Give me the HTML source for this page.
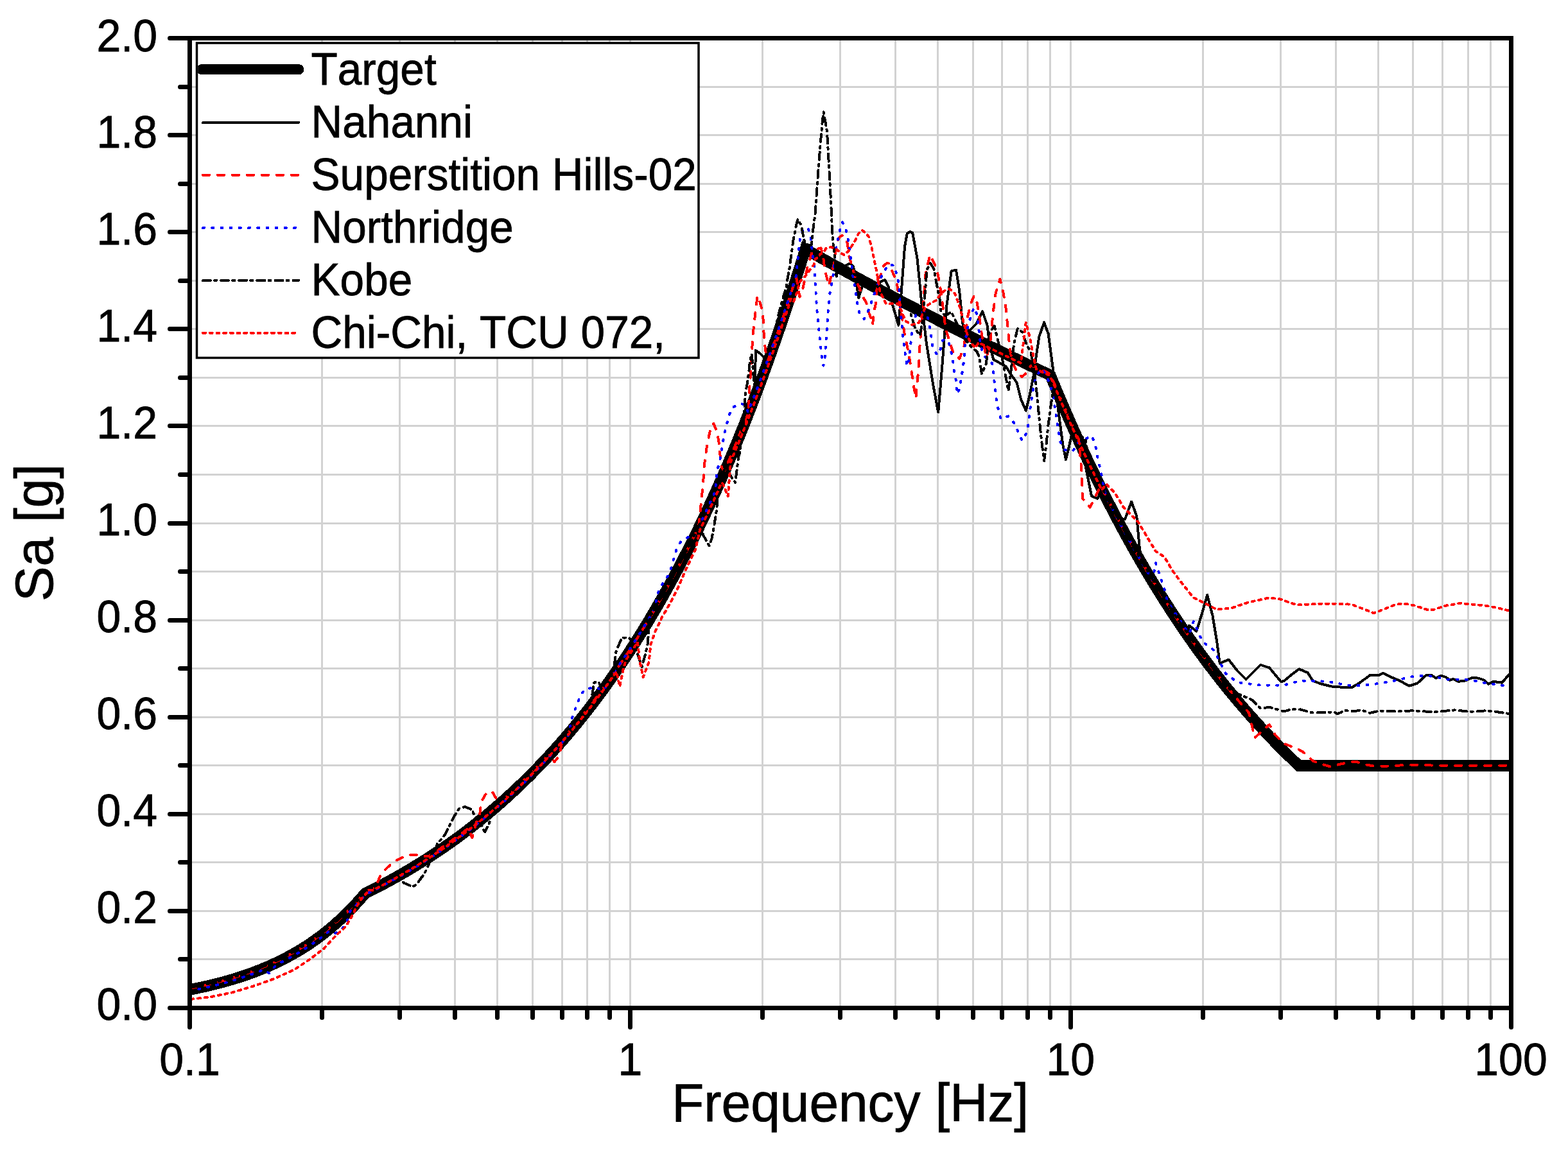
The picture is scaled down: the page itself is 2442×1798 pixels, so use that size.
<!DOCTYPE html>
<html><head><meta charset="utf-8"><style>html,body{margin:0;padding:0;background:#fff;}svg{display:block;}text{font-kerning:none;}</style></head>
<body><svg width="2442" height="1798" viewBox="0 0 2442 1798">
<rect width="2442" height="1798" fill="#fff"/>
<path d="M501.50 63.0V1567.0M622.50 63.0V1567.0M708.50 63.0V1567.0M774.50 63.0V1567.0M829.50 63.0V1567.0M875.50 63.0V1567.0M914.50 63.0V1567.0M949.50 63.0V1567.0M981.50 63.0V1567.0M1187.50 63.0V1567.0M1308.50 63.0V1567.0M1394.50 63.0V1567.0M1460.50 63.0V1567.0M1515.50 63.0V1567.0M1560.50 63.0V1567.0M1600.50 63.0V1567.0M1635.50 63.0V1567.0M1667.50 63.0V1567.0M1873.50 63.0V1567.0M1994.50 63.0V1567.0M2080.50 63.0V1567.0M2146.50 63.0V1567.0M2200.50 63.0V1567.0M2246.50 63.0V1567.0M2286.50 63.0V1567.0M2321.50 63.0V1567.0M299.0 1494.50H2349.5M299.0 1419.50H2349.5M299.0 1343.50H2349.5M299.0 1268.50H2349.5M299.0 1192.50H2349.5M299.0 1117.50H2349.5M299.0 1041.50H2349.5M299.0 966.50H2349.5M299.0 890.50H2349.5M299.0 815.50H2349.5M299.0 739.50H2349.5M299.0 663.50H2349.5M299.0 588.50H2349.5M299.0 512.50H2349.5M299.0 437.50H2349.5M299.0 361.50H2349.5M299.0 286.50H2349.5M299.0 210.50H2349.5M299.0 135.50H2349.5" stroke="#d2d2d2" stroke-width="3" fill="none"/>
<defs><clipPath id="pc"><rect x="295.5" y="59.5" width="2057.5" height="1511"/></clipPath></defs>
<g clip-path="url(#pc)" fill="none" shape-rendering="crispEdges">
<path d="M295.5 1542.0 L299.5 1541.2 L303.5 1540.4 L307.5 1539.6 L311.5 1538.7 L315.5 1537.9 L319.5 1537.0 L323.5 1536.1 L327.5 1535.1 L331.5 1534.2 L335.5 1533.2 L339.5 1532.2 L343.5 1531.1 L347.5 1530.1 L351.5 1528.9 L355.5 1527.8 L359.5 1526.7 L363.5 1525.5 L367.5 1524.2 L371.5 1523.0 L375.5 1521.7 L379.5 1520.4 L383.5 1519.0 L387.5 1517.6 L391.5 1516.1 L395.5 1514.7 L399.5 1513.1 L403.5 1511.6 L407.5 1510.0 L411.5 1508.3 L415.5 1506.6 L419.5 1504.9 L423.5 1503.1 L427.5 1501.3 L431.5 1499.4 L435.5 1497.5 L439.5 1495.5 L443.5 1493.4 L447.5 1491.3 L451.5 1489.2 L455.5 1487.0 L459.5 1484.7 L463.5 1482.4 L467.5 1480.0 L471.5 1477.5 L475.5 1475.0 L479.5 1472.4 L483.5 1469.7 L487.5 1466.9 L491.5 1464.1 L495.5 1461.2 L499.5 1458.3 L503.5 1455.2 L507.5 1452.1 L511.5 1448.8 L515.5 1445.5 L519.5 1442.1 L523.5 1438.6 L527.5 1435.0 L531.5 1431.4 L535.5 1427.6 L539.5 1423.7 L543.5 1419.7 L547.5 1415.6 L551.5 1411.4 L555.5 1407.0 L559.5 1402.6 L563.5 1398.0 L567.5 1393.3 L568.4 1392.2 L571.5 1390.7 L575.5 1388.7 L579.5 1386.7 L583.5 1384.6 L587.5 1382.6 L591.5 1380.5 L595.5 1378.4 L599.5 1376.2 L603.5 1374.1 L607.5 1371.9 L611.5 1369.7 L615.5 1367.5 L619.5 1365.2 L623.5 1362.9 L627.5 1360.6 L631.5 1358.3 L635.5 1356.0 L639.5 1353.6 L643.5 1351.2 L647.5 1348.7 L651.5 1346.3 L655.5 1343.8 L659.5 1341.3 L663.5 1338.7 L667.5 1336.2 L671.5 1333.6 L675.5 1330.9 L679.5 1328.3 L683.5 1325.6 L687.5 1322.9 L691.5 1320.1 L695.5 1317.3 L699.5 1314.5 L703.5 1311.7 L707.5 1308.8 L711.5 1305.9 L715.5 1303.0 L719.5 1300.0 L723.5 1297.0 L727.5 1294.0 L731.5 1290.9 L735.5 1287.8 L739.5 1284.7 L743.5 1281.5 L747.5 1278.3 L751.5 1275.1 L755.5 1271.8 L759.5 1268.5 L763.5 1265.1 L767.5 1261.7 L771.5 1258.3 L775.5 1254.8 L779.5 1251.3 L783.5 1247.8 L787.5 1244.2 L791.5 1240.6 L795.5 1236.9 L799.5 1233.2 L803.5 1229.5 L807.5 1225.7 L811.5 1221.9 L815.5 1218.0 L819.5 1214.1 L823.5 1210.2 L827.5 1206.2 L831.5 1202.1 L835.5 1198.0 L839.5 1193.9 L843.5 1189.7 L847.5 1185.5 L851.5 1181.2 L855.5 1176.9 L859.5 1172.5 L863.5 1168.1 L867.5 1163.7 L871.5 1159.1 L875.5 1154.6 L879.5 1150.0 L883.5 1145.3 L887.5 1140.6 L891.5 1135.8 L895.5 1131.0 L899.5 1126.1 L903.5 1121.2 L907.5 1116.2 L911.5 1111.2 L915.5 1106.1 L919.5 1100.9 L923.5 1095.7 L927.5 1090.4 L931.5 1085.1 L935.5 1079.7 L939.5 1074.3 L943.5 1068.8 L947.5 1063.2 L951.5 1057.6 L955.5 1051.9 L959.5 1046.1 L963.5 1040.3 L967.5 1034.4 L971.5 1028.5 L975.5 1022.5 L979.5 1016.4 L983.5 1010.2 L987.5 1004.0 L991.5 997.7 L995.5 991.4 L999.5 985.0 L1003.5 978.5 L1007.5 971.9 L1011.5 965.2 L1015.5 958.5 L1019.5 951.7 L1023.5 944.9 L1027.5 937.9 L1031.5 930.9 L1035.5 923.8 L1039.5 916.6 L1043.5 909.4 L1047.5 902.1 L1051.5 894.6 L1055.5 887.1 L1059.5 879.6 L1063.5 871.9 L1067.5 864.1 L1071.5 856.3 L1075.5 848.4 L1079.5 840.4 L1083.5 832.3 L1087.5 824.1 L1091.5 815.8 L1095.5 807.4 L1099.5 799.0 L1103.5 790.4 L1107.5 781.7 L1111.5 773.0 L1115.5 764.1 L1119.5 755.2 L1123.5 746.2 L1127.5 737.0 L1131.5 727.8 L1135.5 718.4 L1139.5 709.0 L1143.5 699.4 L1147.5 689.7 L1151.5 680.0 L1155.5 670.1 L1159.5 660.1 L1163.5 650.0 L1167.5 639.8 L1171.5 629.4 L1175.5 619.0 L1179.5 608.5 L1183.5 597.8 L1187.5 587.0 L1191.5 576.1 L1195.5 565.0 L1199.5 553.9 L1203.5 542.6 L1207.5 531.2 L1211.5 519.7 L1215.5 508.0 L1219.5 496.2 L1223.5 484.3 L1227.5 472.3 L1231.5 460.1 L1235.5 447.8 L1239.5 435.3 L1243.5 422.7 L1247.5 410.0 L1251.5 397.1 L1254.3 388.1 L1255.5 388.8 L1259.5 391.1 L1263.5 393.3 L1267.5 395.6 L1271.5 397.8 L1275.5 400.0 L1279.5 402.3 L1283.5 404.5 L1287.5 406.7 L1291.5 408.9 L1295.5 411.1 L1299.5 413.3 L1303.5 415.5 L1307.5 417.7 L1311.5 419.9 L1315.5 422.1 L1319.5 424.3 L1323.5 426.5 L1327.5 428.7 L1331.5 430.8 L1335.5 433.0 L1339.5 435.2 L1343.5 437.3 L1347.5 439.5 L1351.5 441.6 L1355.5 443.8 L1359.5 445.9 L1363.5 448.1 L1367.5 450.2 L1371.5 452.3 L1375.5 454.5 L1379.5 456.6 L1383.5 458.7 L1387.5 460.8 L1391.5 462.9 L1395.5 465.1 L1399.5 467.2 L1403.5 469.3 L1407.5 471.4 L1411.5 473.4 L1415.5 475.5 L1419.5 477.6 L1423.5 479.7 L1427.5 481.8 L1431.5 483.8 L1435.5 485.9 L1439.5 488.0 L1443.5 490.0 L1447.5 492.1 L1451.5 494.1 L1455.5 496.2 L1459.5 498.2 L1463.5 500.3 L1467.5 502.3 L1471.5 504.3 L1475.5 506.4 L1479.5 508.4 L1483.5 510.4 L1487.5 512.4 L1491.5 514.5 L1495.5 516.5 L1499.5 518.5 L1503.5 520.5 L1507.5 522.5 L1511.5 524.5 L1515.5 526.5 L1519.5 528.4 L1523.5 530.4 L1527.5 532.4 L1531.5 534.4 L1535.5 536.3 L1539.5 538.3 L1543.5 540.3 L1547.5 542.2 L1551.5 544.2 L1555.5 546.1 L1559.5 548.1 L1563.5 550.0 L1567.5 552.0 L1571.5 553.9 L1575.5 555.9 L1579.5 557.8 L1583.5 559.7 L1587.5 561.6 L1591.5 563.6 L1595.5 565.5 L1599.5 567.4 L1603.5 569.3 L1607.5 571.2 L1611.5 573.1 L1615.5 575.0 L1619.5 576.9 L1623.5 578.8 L1627.5 580.7 L1631.5 582.6 L1635.5 584.4 L1635.8 584.6 L1639.5 593.6 L1643.5 603.3 L1647.5 612.8 L1651.5 622.2 L1655.5 631.6 L1659.5 640.9 L1663.5 650.0 L1667.5 659.1 L1671.5 668.1 L1675.5 677.0 L1679.5 685.8 L1683.5 694.6 L1687.5 703.2 L1691.5 711.8 L1695.5 720.2 L1699.5 728.6 L1703.5 736.9 L1707.5 745.2 L1711.5 753.3 L1715.5 761.4 L1719.5 769.3 L1723.5 777.2 L1727.5 785.1 L1731.5 792.8 L1735.5 800.5 L1739.5 808.1 L1743.5 815.6 L1747.5 823.1 L1751.5 830.4 L1755.5 837.7 L1759.5 845.0 L1763.5 852.1 L1767.5 859.2 L1771.5 866.2 L1775.5 873.2 L1779.5 880.1 L1783.5 886.9 L1787.5 893.6 L1791.5 900.3 L1795.5 906.9 L1799.5 913.5 L1803.5 919.9 L1807.5 926.4 L1811.5 932.7 L1815.5 939.0 L1819.5 945.2 L1823.5 951.4 L1827.5 957.5 L1831.5 963.6 L1835.5 969.6 L1839.5 975.5 L1843.5 981.4 L1847.5 987.2 L1851.5 992.9 L1855.5 998.6 L1859.5 1004.3 L1863.5 1009.9 L1867.5 1015.4 L1871.5 1020.9 L1875.5 1026.3 L1879.5 1031.7 L1883.5 1037.0 L1887.5 1042.2 L1891.5 1047.5 L1895.5 1052.6 L1899.5 1057.7 L1903.5 1062.8 L1907.5 1067.8 L1911.5 1072.8 L1915.5 1077.7 L1919.5 1082.5 L1923.5 1087.3 L1927.5 1092.1 L1931.5 1096.8 L1935.5 1101.5 L1939.5 1106.1 L1943.5 1110.7 L1947.5 1115.2 L1951.5 1119.7 L1955.5 1124.2 L1959.5 1128.6 L1963.5 1133.0 L1967.5 1137.3 L1971.5 1141.5 L1975.5 1145.8 L1979.5 1150.0 L1983.5 1154.1 L1987.5 1158.2 L1991.5 1162.3 L1995.5 1166.3 L1999.5 1170.3 L2003.5 1174.3 L2007.5 1178.2 L2011.5 1182.0 L2015.5 1185.9 L2019.5 1189.7 L2022.8 1192.8 L2023.5 1192.8 L2027.5 1192.8 L2031.5 1192.8 L2035.5 1192.8 L2039.5 1192.8 L2043.5 1192.8 L2047.5 1192.8 L2051.5 1192.8 L2055.5 1192.8 L2059.5 1192.8 L2063.5 1192.8 L2067.5 1192.8 L2071.5 1192.8 L2075.5 1192.8 L2079.5 1192.8 L2083.5 1192.8 L2087.5 1192.8 L2091.5 1192.8 L2095.5 1192.8 L2099.5 1192.8 L2103.5 1192.8 L2107.5 1192.8 L2111.5 1192.8 L2115.5 1192.8 L2119.5 1192.8 L2123.5 1192.8 L2127.5 1192.8 L2131.5 1192.8 L2135.5 1192.8 L2139.5 1192.8 L2143.5 1192.8 L2147.5 1192.8 L2151.5 1192.8 L2155.5 1192.8 L2159.5 1192.8 L2163.5 1192.8 L2167.5 1192.8 L2171.5 1192.8 L2175.5 1192.8 L2179.5 1192.8 L2183.5 1192.8 L2187.5 1192.8 L2191.5 1192.8 L2195.5 1192.8 L2199.5 1192.8 L2203.5 1192.8 L2207.5 1192.8 L2211.5 1192.8 L2215.5 1192.8 L2219.5 1192.8 L2223.5 1192.8 L2227.5 1192.8 L2231.5 1192.8 L2235.5 1192.8 L2239.5 1192.8 L2243.5 1192.8 L2247.5 1192.8 L2251.5 1192.8 L2255.5 1192.8 L2259.5 1192.8 L2263.5 1192.8 L2267.5 1192.8 L2271.5 1192.8 L2275.5 1192.8 L2279.5 1192.8 L2283.5 1192.8 L2287.5 1192.8 L2291.5 1192.8 L2295.5 1192.8 L2299.5 1192.8 L2303.5 1192.8 L2307.5 1192.8 L2311.5 1192.8 L2315.5 1192.8 L2319.5 1192.8 L2323.5 1192.8 L2327.5 1192.8 L2331.5 1192.8 L2335.5 1192.8 L2339.5 1192.8 L2343.5 1192.8 L2347.5 1192.8 L2351.5 1192.8 L2353.0 1192.8 L2353.0 1192.8" stroke="#000" stroke-width="17.5" stroke-linejoin="miter" stroke-miterlimit="10" stroke-linecap="butt"/>
<path d="M295.5 1545.0 L300.5 1544.0 L305.6 1543.0 L310.6 1541.9 L315.6 1540.8 L320.7 1539.7 L325.7 1538.6 L330.7 1537.4 L335.8 1536.1 L340.8 1534.8 L345.8 1533.5 L350.9 1532.1 L355.9 1530.7 L360.9 1529.2 L365.9 1527.7 L371.0 1526.1 L376.0 1524.5 L381.0 1522.8 L386.1 1521.1 L391.1 1519.3 L396.1 1517.4 L401.2 1515.5 L406.2 1513.5 L411.2 1511.4 L416.3 1509.3 L421.3 1507.1 L426.3 1504.8 L431.4 1502.5 L436.4 1500.0 L441.4 1497.5 L446.5 1494.9 L451.5 1492.2 L456.5 1489.4 L461.6 1486.5 L466.6 1483.5 L471.6 1480.4 L476.7 1477.2 L481.7 1473.9 L486.7 1470.5 L491.8 1466.9 L496.8 1463.3 L501.8 1459.5 L506.9 1455.6 L511.9 1451.5 L516.9 1447.3 L521.9 1443.0 L527.0 1438.5 L532.0 1433.9 L537.0 1429.1 L542.1 1424.1 L547.1 1419.0 L552.1 1413.7 L557.2 1408.2 L562.2 1402.5 L567.2 1396.6 L572.3 1393.3 L577.3 1390.8 L582.3 1388.2 L587.4 1385.6 L592.4 1383.0 L597.4 1380.3 L602.5 1377.6 L607.5 1374.9 L612.5 1372.1 L617.6 1369.3 L622.6 1366.5 L627.6 1363.6 L632.7 1360.6 L637.7 1357.7 L642.7 1354.6 L647.8 1351.6 L652.8 1348.5 L657.8 1345.3 L662.8 1342.2 L667.9 1338.9 L672.9 1335.6 L677.9 1332.3 L683.0 1328.9 L688.0 1325.5 L693.0 1322.1 L698.1 1318.5 L703.1 1315.0 L708.1 1311.4 L713.2 1307.7 L718.2 1304.0 L723.2 1300.2 L728.3 1296.4 L733.3 1292.5 L738.3 1288.6 L743.4 1284.6 L748.4 1280.6 L753.4 1276.5 L758.5 1272.3 L763.5 1268.1 L768.5 1263.9 L773.6 1259.5 L778.6 1255.1 L783.6 1250.7 L788.6 1246.2 L793.7 1241.6 L798.7 1237.0 L803.7 1232.3 L808.8 1227.5 L813.8 1222.7 L818.8 1217.8 L823.9 1212.8 L828.9 1207.7 L833.9 1202.6 L839.0 1197.4 L844.0 1192.2 L849.0 1186.9 L854.1 1181.5 L859.1 1176.0 L864.1 1170.4 L869.2 1164.8 L874.2 1159.1 L879.2 1153.3 L884.3 1147.4 L889.3 1141.4 L894.3 1135.4 L899.4 1129.3 L904.4 1123.1 L909.4 1116.8 L914.5 1110.4 L919.5 1103.9 L924.5 1097.4 L929.5 1090.7 L934.6 1084.0 L939.6 1077.1 L944.6 1070.2 L949.7 1063.1 L954.7 1056.0 L959.7 1048.8 L964.8 1041.4 L969.8 1034.0 L974.8 1026.5 L979.9 1018.8 L984.9 1011.1 L989.9 1003.2 L995.0 995.2 L1000.0 987.1 L1000.0 985.6 L1005.0 977.5 L1010.0 969.2 L1015.0 960.9 L1020.0 952.4 L1025.0 943.8 L1030.0 935.1 L1035.0 926.2 L1040.0 917.2 L1045.0 908.1 L1050.0 898.9 L1055.0 889.6 L1060.0 880.1 L1065.0 870.5 L1070.0 860.8 L1075.0 850.9 L1080.0 840.9 L1085.0 830.7 L1090.0 820.4 L1095.0 810.0 L1100.0 799.4 L1105.0 788.7 L1110.0 777.8 L1115.0 766.8 L1120.0 755.6 L1125.0 744.2 L1130.0 732.7 L1135.0 721.1 L1140.0 709.3 L1145.0 697.3 L1150.0 685.1 L1155.0 672.8 L1160.0 660.3 L1165.0 647.7 L1170.0 634.8 L1175.0 621.8 L1177.0 546.0 L1184.0 551.0 L1191.6 558.8 L1193.0 575.5 L1198.1 561.3 L1203.2 547.0 L1208.3 532.4 L1213.4 517.7 L1218.5 502.8 L1223.6 487.6 L1228.7 472.2 L1233.8 456.6 L1238.9 440.8 L1244.0 424.8 L1249.0 408.5 L1254.1 392.0 L1259.2 394.4 L1264.3 397.3 L1269.4 400.2 L1274.5 403.0 L1279.6 405.8 L1284.7 408.7 L1289.8 411.5 L1294.9 414.3 L1300.0 417.1 L1317.0 414.0 L1324.0 410.0 L1329.0 415.0 L1332.0 432.0 L1335.0 450.0 L1337.3 464.0 L1340.0 455.0 L1342.6 447.0 L1345.0 439.6 L1350.8 442.7 L1356.5 445.8 L1362.2 448.9 L1368.0 452.0 L1370.9 439.0 L1378.1 436.2 L1383.6 446.2 L1389.0 471.6 L1394.5 489.8 L1399.4 506.8 L1403.6 457.1 L1409.0 384.5 L1412.7 363.9 L1417.5 361.0 L1421.2 362.7 L1428.5 402.7 L1435.7 475.3 L1443.0 535.9 L1452.7 596.5 L1461.2 642.5 L1467.2 572.2 L1474.5 475.3 L1481.7 422.1 L1489.0 420.8 L1493.9 451.1 L1498.7 499.6 L1501.5 519.0 L1510.8 514.1 L1520.5 504.4 L1530.2 485.0 L1537.5 506.8 L1541.1 535.9 L1547.2 560.1 L1557.9 566.1 L1567.0 571.5 L1572.7 580.9 L1583.6 596.1 L1590.1 622.3 L1597.7 639.7 L1603.2 617.9 L1609.7 585.2 L1614.1 552.5 L1618.4 524.2 L1626.1 502.4 L1632.6 519.9 L1637.0 552.5 L1641.3 585.2 L1646.8 628.8 L1651.1 661.5 L1655.5 694.2 L1659.9 716.0 L1665.3 694.2 L1668.6 678.9 L1677.2 677.1 L1686.3 681.7 L1690.8 727.1 L1699.9 772.5 L1709.0 777.0 L1720.3 758.9 L1736.0 808.8 L1752.1 808.8 L1762.1 781.6 L1770.3 804.3 L1774.8 854.2 L1780.0 881.4 L1785.0 889.9 L1790.0 898.3 L1795.0 906.6 L1800.0 914.8 L1805.0 922.9 L1810.0 930.8 L1815.0 938.7 L1820.0 946.5 L1825.0 954.2 L1830.0 961.8 L1835.0 969.3 L1840.0 976.7 L1845.0 984.0 L1850.0 991.3 L1852.0 974.6 L1863.4 983.6 L1872.5 954.1 L1880.2 926.9 L1888.4 958.7 L1895.2 999.6 L1899.7 1033.6 L1913.4 1027.7 L1927.0 1045.0 L1940.6 1058.6 L1963.3 1035.9 L1976.9 1040.4 L1995.1 1062.2 L2000.0 1060.8 L2011.6 1051.1 L2023.3 1042.4 L2036.8 1048.2 L2044.6 1060.8 L2058.1 1065.7 L2073.6 1069.5 L2087.2 1070.5 L2104.6 1071.5 L2116.3 1064.7 L2133.7 1052.1 L2147.3 1052.1 L2154.0 1048.8 L2166.6 1055.0 L2178.3 1059.9 L2194.7 1068.6 L2207.3 1064.7 L2220.9 1052.1 L2229.6 1052.1 L2236.4 1056.6 L2244.1 1052.7 L2251.9 1055.0 L2257.7 1059.9 L2263.5 1057.9 L2271.3 1061.8 L2281.0 1060.8 L2292.6 1056.0 L2302.3 1056.6 L2312.0 1059.9 L2317.8 1065.7 L2325.5 1061.8 L2339.1 1063.7 L2352.0 1049.0" stroke="#000" stroke-width="4" stroke-linecap="round" stroke-linejoin="round"/>
<path d="M295.5 1540.0 L300.6 1539.0 L305.7 1538.0 L310.7 1536.9 L315.8 1535.8 L320.9 1534.7 L326.0 1533.5 L331.1 1532.3 L336.1 1531.0 L341.2 1529.7 L346.3 1528.4 L351.4 1527.0 L356.4 1525.5 L361.5 1524.1 L366.6 1522.5 L371.7 1520.9 L376.8 1519.3 L381.8 1517.6 L386.9 1515.8 L392.0 1514.0 L397.1 1512.1 L402.2 1510.1 L407.2 1508.1 L412.3 1506.0 L417.4 1503.8 L422.5 1501.6 L427.6 1499.3 L432.6 1496.9 L437.7 1494.4 L442.8 1491.8 L447.9 1489.1 L452.9 1486.4 L458.0 1483.5 L463.1 1480.6 L468.2 1477.5 L473.3 1474.4 L478.3 1471.1 L483.4 1467.7 L488.5 1464.2 L493.6 1460.6 L498.7 1456.9 L503.7 1453.0 L508.8 1449.0 L513.9 1444.9 L519.0 1440.6 L524.1 1436.1 L529.1 1431.5 L534.2 1426.8 L539.3 1421.9 L544.4 1416.8 L549.4 1411.5 L554.5 1406.1 L559.6 1400.4 L564.7 1394.6 L569.8 1389.5 L574.8 1387.0 L579.9 1384.5 L585.0 1381.9 L593.6 1361.5 L604.5 1350.6 L615.4 1341.5 L629.9 1334.2 L640.8 1331.5 L651.7 1332.4 L662.6 1334.2 L668.0 1333.8 L673.2 1330.5 L678.3 1327.1 L683.5 1323.6 L688.7 1320.1 L693.8 1316.5 L699.0 1312.9 L704.2 1309.2 L709.3 1305.5 L714.5 1301.7 L719.7 1297.9 L724.8 1294.0 L730.0 1290.1 L735.2 1305.2 L738.8 1294.3 L742.0 1280.7 L746.0 1277.5 L749.7 1249.0 L756.0 1238.0 L762.5 1232.6 L767.9 1235.3 L773.3 1245.3 L778.0 1250.7 L783.1 1246.1 L788.3 1241.5 L793.4 1236.8 L798.6 1232.1 L803.7 1227.3 L808.9 1222.4 L814.0 1217.5 L819.1 1212.5 L824.3 1207.4 L829.4 1202.2 L834.6 1197.0 L839.7 1191.7 L844.9 1186.3 L850.0 1180.8 L856.0 1176.0 L863.5 1187.0 L871.0 1178.0 L876.0 1152.0 L881.0 1146.2 L886.1 1140.2 L891.1 1134.2 L896.2 1128.1 L901.2 1122.0 L906.3 1115.7 L911.3 1109.4 L916.4 1102.9 L921.4 1096.4 L926.5 1089.8 L931.5 1083.1 L936.6 1076.3 L941.6 1069.4 L946.7 1062.4 L951.7 1055.3 L956.8 1048.1 L961.8 1040.8 L966.9 1033.4 L971.9 1025.9 L977.0 1018.3 L982.0 1010.5 L987.0 1002.7 L992.1 994.8 L997.1 986.7 L1002.2 978.6 L1007.2 970.3 L1012.3 961.9 L1017.3 953.4 L1022.4 944.8 L1027.4 936.1 L1032.5 927.2 L1037.5 918.2 L1042.6 909.1 L1047.6 899.8 L1052.7 890.5 L1057.7 881.0 L1062.8 871.3 L1067.8 861.5 L1072.9 851.6 L1077.9 841.6 L1083.0 831.4 L1088.0 821.0 L1091.0 792.6 L1095.0 753.8 L1096.9 724.7 L1100.8 695.7 L1105.6 672.4 L1111.4 659.8 L1116.3 672.4 L1119.2 686.0 L1122.1 715.0 L1124.0 728.6 L1128.0 733.9 L1133.3 721.6 L1138.6 709.2 L1143.9 696.5 L1149.1 683.7 L1154.4 670.7 L1159.7 657.6 L1165.0 644.2 L1167.7 598.8 L1169.2 583.3 L1170.6 561.0 L1171.6 536.8 L1173.6 511.6 L1176.5 486.5 L1178.4 471.0 L1179.4 461.3 L1182.0 466.0 L1185.2 476.8 L1188.1 488.4 L1189.0 507.8 L1190.0 527.1 L1192.9 551.3 L1196.0 561.7 L1201.5 546.3 L1207.0 530.6 L1212.5 514.8 L1218.0 498.7 L1223.5 482.3 L1229.0 465.7 L1234.5 448.8 L1240.0 431.7 L1245.5 462.7 L1250.2 450.1 L1257.3 417.1 L1261.2 404.5 L1265.0 391.0 L1272.0 388.0 L1278.6 386.4 L1281.7 398.2 L1284.8 421.8 L1288.0 433.6 L1290.5 445.0 L1292.7 437.6 L1295.0 426.0 L1298.2 414.0 L1301.0 395.0 L1303.0 378.0 L1308.0 369.0 L1312.0 366.6 L1316.0 370.0 L1320.0 380.0 L1322.0 398.0 L1327.0 415.0 L1333.0 436.0 L1338.6 449.0 L1342.6 460.0 L1349.3 472.0 L1352.0 484.0 L1356.0 494.5 L1359.0 506.0 L1361.0 486.0 L1364.0 473.0 L1366.6 436.0 L1372.0 428.0 L1376.0 414.6 L1381.0 410.0 L1385.0 410.6 L1390.6 425.3 L1396.0 436.0 L1398.0 449.0 L1404.0 490.0 L1409.0 522.0 L1414.0 545.0 L1419.0 574.0 L1422.0 596.0 L1426.5 621.0 L1428.0 600.0 L1430.4 577.0 L1432.8 534.0 L1437.0 490.0 L1439.0 461.0 L1441.0 430.0 L1444.0 416.0 L1448.5 397.0 L1457.0 415.0 L1460.0 424.0 L1463.0 440.0 L1466.0 459.0 L1469.0 482.0 L1472.6 511.6 L1478.0 529.7 L1485.3 551.5 L1494.4 558.8 L1501.6 538.8 L1507.1 493.4 L1512.5 471.6 L1517.0 460.7 L1521.6 471.6 L1525.2 493.4 L1528.9 520.7 L1536.1 557.0 L1541.6 538.8 L1547.0 484.4 L1550.6 457.1 L1557.4 434.9 L1561.8 452.3 L1566.1 476.3 L1568.3 498.1 L1570.5 519.9 L1572.7 543.8 L1577.0 565.6 L1583.6 578.7 L1591.2 587.4 L1598.8 580.9 L1605.4 570.0 L1612.0 571.3 L1617.2 573.8 L1622.5 576.3 L1627.7 578.8 L1632.9 581.2 L1638.2 588.3 L1643.4 601.0 L1648.6 613.4 L1653.8 625.7 L1659.1 637.9 L1664.3 649.9 L1669.5 661.7 L1674.8 673.4 L1680.0 684.9 L1684.0 727.1 L1686.3 777.0 L1697.6 790.6 L1709.0 767.9 L1714.0 756.3 L1719.0 766.4 L1724.0 776.3 L1729.1 786.1 L1734.1 795.8 L1739.1 805.4 L1744.1 814.8 L1749.2 824.1 L1754.2 833.3 L1759.2 842.4 L1764.2 851.4 L1769.2 860.3 L1774.3 869.0 L1779.3 877.7 L1784.3 886.2 L1789.3 894.7 L1794.3 903.0 L1799.4 911.3 L1804.4 919.4 L1809.4 927.4 L1814.4 935.3 L1819.5 943.2 L1824.5 950.9 L1829.5 958.6 L1834.5 966.1 L1839.5 973.6 L1844.6 980.9 L1849.6 988.2 L1854.6 995.4 L1859.6 1002.5 L1864.7 1009.5 L1869.7 1016.4 L1874.7 1023.2 L1879.7 1029.9 L1884.7 1036.6 L1889.8 1043.2 L1894.8 1049.7 L1899.8 1056.1 L1904.8 1062.4 L1909.8 1068.7 L1914.9 1074.9 L1919.9 1081.0 L1924.9 1087.0 L1929.9 1093.0 L1935.0 1098.9 L1940.0 1104.7 L1945.0 1110.4 L1954.2 1149.4 L1976.9 1129.0 L1986.0 1144.9 L1999.6 1158.5 L2022.3 1167.6 L2029.0 1171.3 L2045.0 1185.7 L2052.3 1188.7 L2071.7 1194.5 L2087.2 1190.6 L2100.8 1187.7 L2112.4 1186.7 L2122.0 1190.6 L2139.5 1193.5 L2164.7 1193.5 L2193.8 1191.6 L2232.5 1192.6 L2290.6 1193.0 L2352.0 1192.6" stroke="#f00" stroke-width="4" stroke-linecap="round" stroke-linejoin="round" stroke-dasharray="10 13"/>
<path d="M295.5 1544.0 L300.7 1543.0 L305.9 1541.9 L311.1 1540.8 L316.3 1539.7 L321.5 1538.5 L326.7 1537.3 L331.9 1536.1 L337.1 1534.8 L342.3 1533.4 L347.5 1532.0 L352.8 1530.6 L358.0 1529.1 L363.2 1527.6 L368.4 1526.0 L373.6 1524.3 L378.8 1522.6 L384.0 1520.8 L389.2 1519.0 L394.4 1517.1 L399.6 1515.1 L404.8 1513.1 L410.0 1511.0 L419.2 1516.5 L428.0 1506.0 L434.0 1501.2 L439.2 1498.6 L444.4 1496.0 L449.6 1493.2 L454.8 1490.4 L460.0 1487.4 L465.2 1484.3 L470.4 1481.2 L475.6 1477.9 L480.8 1474.5 L486.0 1471.0 L491.2 1467.3 L496.4 1463.6 L501.6 1459.7 L506.8 1455.6 L512.0 1451.4 L518.9 1455.2 L530.3 1451.1 L540.0 1437.0 L545.0 1420.1 L550.0 1414.9 L555.0 1409.6 L560.0 1404.0 L565.0 1398.3 L570.0 1393.4 L575.0 1390.9 L580.0 1388.4 L585.0 1385.9 L590.0 1383.3 L595.0 1380.6 L600.0 1378.0 L605.0 1375.3 L610.0 1372.5 L615.0 1369.8 L620.0 1366.9 L625.0 1364.1 L630.0 1361.2 L635.0 1358.3 L640.0 1355.3 L645.0 1352.3 L650.0 1349.2 L655.0 1346.1 L660.0 1343.0 L665.0 1339.8 L670.0 1336.5 L675.0 1333.3 L680.0 1329.9 L685.0 1326.6 L690.0 1323.2 L695.0 1319.7 L700.0 1316.2 L705.0 1312.6 L710.0 1309.0 L715.0 1305.4 L720.0 1301.6 L725.0 1297.9 L730.0 1294.1 L735.0 1290.2 L740.0 1286.3 L745.0 1282.3 L750.0 1278.3 L755.0 1274.2 L760.0 1270.1 L765.0 1265.9 L770.0 1261.6 L775.0 1257.3 L780.0 1252.9 L785.0 1248.5 L790.0 1244.0 L795.0 1239.4 L800.0 1234.8 L805.0 1230.1 L810.0 1225.3 L815.0 1220.5 L820.0 1215.6 L825.0 1210.7 L830.0 1205.6 L835.0 1200.5 L840.0 1195.4 L845.0 1190.1 L850.0 1184.8 L855.0 1179.4 L860.0 1174.0 L865.0 1168.4 L870.0 1162.8 L875.0 1157.1 L880.0 1151.4 L885.0 1145.5 L891.7 1116.0 L897.1 1101.5 L902.6 1087.0 L910.8 1073.4 L927.1 1071.5 L941.6 1075.2 L946.0 1062.3 L951.3 1054.9 L956.6 1047.3 L961.9 1039.7 L967.1 1031.9 L972.4 1024.1 L977.7 1016.1 L983.0 1008.0 L988.3 999.8 L993.6 991.4 L998.9 983.0 L1004.1 974.4 L1009.4 965.7 L1014.7 956.9 L1020.0 947.9 L1023.4 926.3 L1030.6 911.7 L1039.7 898.1 L1045.1 885.4 L1048.8 871.8 L1053.3 857.3 L1060.1 843.9 L1074.6 835.2 L1080.0 837.4 L1085.7 825.8 L1091.3 814.1 L1097.0 802.3 L1102.7 790.2 L1108.3 777.9 L1114.0 765.5 L1116.3 736.4 L1120.2 720.9 L1123.1 707.3 L1125.0 693.7 L1127.9 678.2 L1130.8 664.7 L1134.7 650.1 L1139.5 635.6 L1153.1 628.8 L1160.9 630.7 L1165.0 642.2 L1170.0 629.3 L1175.0 616.3 L1180.0 603.1 L1185.0 589.7 L1190.0 576.2 L1195.0 562.4 L1200.0 548.5 L1205.0 534.3 L1210.0 520.0 L1215.0 505.5 L1220.0 490.7 L1225.0 475.8 L1230.0 460.7 L1235.0 445.3 L1240.0 429.7 L1244.4 384.3 L1246.2 369.7 L1251.7 355.2 L1259.0 357.0 L1262.6 371.5 L1264.4 386.0 L1268.0 413.3 L1268.9 427.8 L1270.6 457.0 L1272.4 484.0 L1275.2 511.6 L1277.9 538.8 L1280.5 560.0 L1282.4 569.7 L1284.5 560.0 L1286.1 538.8 L1287.9 511.6 L1289.7 484.3 L1292.4 457.1 L1295.1 442.6 L1298.0 426.0 L1298.9 411.5 L1302.5 384.3 L1306.2 367.9 L1308.9 355.2 L1312.0 346.0 L1318.6 361.3 L1321.3 375.3 L1323.3 388.6 L1325.3 404.0 L1328.6 432.0 L1331.3 446.6 L1333.3 460.0 L1335.3 474.5 L1338.6 488.5 L1346.0 497.2 L1352.6 483.2 L1358.0 468.5 L1366.0 445.0 L1375.3 426.0 L1383.3 412.0 L1393.2 414.0 L1396.6 428.6 L1400.0 442.6 L1400.6 457.2 L1402.6 485.2 L1404.0 500.0 L1405.2 513.2 L1406.6 527.8 L1408.6 542.5 L1410.6 557.0 L1412.3 570.6 L1415.5 561.0 L1417.0 547.0 L1420.2 518.6 L1423.3 502.8 L1426.5 490.2 L1433.0 487.0 L1440.7 485.5 L1445.4 496.5 L1448.5 512.3 L1452.5 540.6 L1459.6 553.2 L1464.3 545.4 L1467.4 531.2 L1472.0 528.0 L1478.0 535.0 L1483.5 557.0 L1485.3 575.0 L1488.9 593.0 L1490.5 614.0 L1494.4 606.0 L1498.0 584.0 L1501.6 559.0 L1503.4 530.0 L1508.9 502.5 L1514.3 486.0 L1517.0 479.0 L1521.6 490.0 L1523.4 506.0 L1525.2 521.0 L1527.0 535.0 L1530.7 551.5 L1538.0 560.0 L1545.2 566.0 L1547.0 580.6 L1548.8 597.0 L1550.6 613.0 L1552.5 628.0 L1555.3 639.7 L1558.5 652.8 L1570.5 648.4 L1581.4 661.5 L1586.9 676.7 L1592.3 686.6 L1599.9 672.4 L1603.2 646.2 L1605.4 628.8 L1607.6 615.7 L1609.7 602.7 L1613.0 587.4 L1622.8 574.3 L1629.3 585.2 L1635.9 600.5 L1640.2 617.9 L1643.5 639.7 L1646.8 661.5 L1651.1 687.6 L1657.7 700.7 L1670.7 702.9 L1679.5 689.8 L1700.2 678.9 L1705.6 692.0 L1710.0 716.0 L1714.3 733.4 L1718.1 754.3 L1722.0 772.3 L1727.2 782.5 L1732.4 792.6 L1737.6 802.6 L1742.9 812.4 L1748.1 822.1 L1753.3 831.7 L1758.5 841.2 L1763.7 850.5 L1768.9 859.7 L1774.1 868.8 L1779.4 877.8 L1784.6 886.7 L1789.8 895.5 L1795.0 904.1 L1799.8 876.9 L1813.4 917.8 L1818.0 936.9 L1823.7 945.7 L1829.3 954.3 L1835.0 962.8 L1840.7 971.2 L1846.3 979.5 L1852.0 987.6 L1858.9 967.8 L1872.5 999.6 L1890.6 1013.2 L1908.8 1049.5 L1927.0 1063.1 L1963.3 1067.7 L1995.1 1067.7 L2005.8 1066.2 L2023.3 1060.8 L2038.8 1060.8 L2067.8 1061.8 L2093.0 1066.6 L2108.5 1068.6 L2135.6 1066.6 L2155.0 1063.7 L2180.2 1058.9 L2193.8 1055.0 L2209.3 1053.1 L2224.8 1053.1 L2238.3 1055.0 L2251.9 1058.5 L2281.0 1058.5 L2296.5 1060.8 L2310.0 1063.7 L2329.4 1066.6 L2352.0 1069.5" stroke="#00f" stroke-width="4" stroke-linecap="round" stroke-linejoin="round" stroke-dasharray="2 12.2"/>
<path d="M295.5 1539.0 L300.6 1538.0 L305.6 1537.0 L310.7 1535.9 L315.8 1534.8 L320.9 1533.7 L325.9 1532.5 L331.0 1531.3 L336.1 1530.0 L341.1 1528.7 L346.2 1527.4 L351.3 1526.0 L356.3 1524.6 L361.4 1523.1 L366.5 1521.6 L371.6 1520.0 L376.6 1518.3 L381.7 1516.6 L386.8 1514.8 L391.8 1513.0 L396.9 1511.1 L402.0 1509.2 L407.0 1507.2 L412.1 1505.1 L417.2 1502.9 L422.3 1500.7 L427.3 1498.4 L432.4 1496.0 L437.5 1493.5 L442.5 1490.9 L447.6 1488.3 L452.7 1485.5 L457.8 1482.7 L462.8 1479.8 L467.9 1476.7 L473.0 1473.6 L478.0 1470.3 L483.1 1467.0 L488.2 1463.5 L493.2 1459.9 L498.3 1456.1 L503.4 1452.3 L508.5 1448.3 L513.5 1444.2 L518.6 1439.9 L523.7 1435.5 L528.7 1430.9 L533.8 1426.2 L538.9 1421.3 L543.9 1416.2 L549.0 1411.0 L554.1 1405.6 L559.2 1400.0 L564.2 1394.2 L569.3 1388.8 L574.4 1386.3 L579.4 1383.7 L584.5 1381.1 L589.6 1378.5 L594.6 1375.8 L599.7 1373.1 L604.8 1370.4 L609.9 1367.6 L614.9 1364.8 L620.0 1361.9 L620.8 1370.6 L629.9 1376.0 L642.6 1381.5 L649.0 1377.8 L655.3 1368.8 L660.8 1361.5 L664.4 1354.2 L668.0 1347.0 L672.0 1330.2 L678.0 1326.3 L681.0 1314.0 L688.0 1307.0 L693.5 1299.7 L700.7 1285.2 L708.0 1270.7 L715.2 1259.8 L724.3 1257.0 L735.2 1261.6 L738.8 1270.7 L745.0 1277.3 L748.0 1274.9 L751.5 1290.7 L755.2 1296.1 L761.6 1283.4 L764.3 1274.3 L768.0 1258.3 L773.1 1254.0 L778.1 1249.5 L783.2 1245.1 L788.3 1240.5 L793.3 1235.9 L798.4 1231.3 L803.5 1226.5 L808.5 1221.7 L813.6 1216.9 L818.7 1211.9 L823.7 1206.9 L828.8 1201.8 L833.9 1196.7 L838.9 1191.5 L844.0 1186.2 L849.1 1180.8 L854.1 1175.4 L859.2 1169.9 L864.3 1164.3 L869.3 1158.6 L874.4 1152.8 L879.5 1147.0 L884.5 1141.1 L889.6 1135.1 L894.7 1129.0 L899.7 1122.8 L904.8 1116.6 L909.9 1110.2 L914.9 1103.8 L920.0 1097.3 L925.3 1063.4 L932.6 1062.5 L937.0 1074.7 L943.0 1066.5 L949.0 1058.1 L955.0 1049.6 L959.8 1013.4 L968.9 993.5 L979.8 993.5 L990.0 1010.0 L999.7 1038.9 L1005.2 1018.9 L1008.8 1002.5 L1012.0 961.4 L1017.2 952.7 L1022.4 943.8 L1027.6 934.8 L1032.8 925.6 L1038.0 916.3 L1043.2 906.9 L1048.4 897.4 L1053.6 887.7 L1058.8 877.9 L1064.0 867.9 L1069.2 857.8 L1074.4 847.6 L1079.6 837.2 L1084.8 826.6 L1090.0 815.9 L1095.0 833.3 L1104.7 850.7 L1108.5 839.0 L1112.4 817.8 L1116.3 792.6 L1119.0 753.3 L1126.0 737.4 L1133.0 721.3 L1135.7 738.3 L1145.3 751.9 L1147.3 734.4 L1150.2 711.2 L1153.1 703.4 L1155.0 668.3 L1158.0 660.8 L1160.8 613.3 L1163.5 598.8 L1166.2 580.6 L1168.0 562.4 L1170.8 551.5 L1175.0 603.3 L1180.6 588.5 L1186.2 573.5 L1191.8 558.3 L1197.4 542.8 L1203.0 527.0 L1208.0 509.8 L1213.0 488.3 L1218.0 469.7 L1221.0 458.8 L1224.3 448.0 L1227.0 431.7 L1229.8 417.2 L1231.6 402.6 L1233.4 389.9 L1235.2 375.4 L1237.9 362.7 L1239.8 351.8 L1242.5 341.8 L1248.0 351.6 L1251.7 371.5 L1254.4 380.6 L1263.5 382.4 L1266.2 358.8 L1269.8 331.6 L1273.5 277.1 L1277.1 231.7 L1280.7 190.0 L1282.6 174.5 L1288.0 204.5 L1291.6 268.0 L1293.5 304.3 L1295.3 340.7 L1297.1 377.0 L1300.7 404.2 L1302.5 433.3 L1305.0 413.4 L1310.1 416.2 L1315.2 419.0 L1320.3 421.7 L1325.4 424.5 L1330.5 427.3 L1335.6 430.1 L1340.7 432.8 L1345.8 435.6 L1350.9 438.3 L1356.0 441.0 L1361.0 443.8 L1366.1 446.5 L1371.2 449.2 L1376.3 451.9 L1381.4 454.6 L1386.5 457.3 L1391.6 460.0 L1396.7 462.7 L1401.8 465.4 L1406.9 468.0 L1412.0 470.7 L1418.1 488.0 L1425.3 511.6 L1432.6 522.5 L1436.2 504.3 L1439.9 466.2 L1443.5 420.8 L1449.0 409.9 L1454.4 419.0 L1458.0 439.0 L1463.5 466.2 L1465.3 484.4 L1472.0 492.0 L1481.6 486.2 L1487.1 497.1 L1500.0 525.0 L1512.0 540.0 L1521.6 547.9 L1525.2 557.0 L1528.9 582.4 L1536.1 566.1 L1539.7 520.7 L1548.7 507.9 L1553.1 526.4 L1559.6 552.5 L1566.1 585.2 L1570.5 609.2 L1574.9 574.3 L1579.2 535.1 L1584.7 512.2 L1592.3 517.7 L1598.8 537.3 L1605.4 548.2 L1611.9 585.2 L1615.2 617.9 L1618.4 650.6 L1621.7 683.3 L1626.1 718.2 L1629.3 694.2 L1632.6 661.5 L1637.0 628.8 L1640.2 608.0 L1645.0 603.8 L1650.2 616.1 L1655.3 628.2 L1660.5 640.2 L1665.7 652.0 L1670.8 663.6 L1676.0 675.1 L1681.7 677.1 L1690.8 686.2 L1696.0 718.3 L1701.1 728.9 L1706.2 739.5 L1711.3 749.9 L1716.4 760.1 L1721.5 770.3 L1726.6 780.3 L1731.7 790.2 L1736.8 799.9 L1741.9 809.6 L1747.0 819.1 L1752.1 828.5 L1757.2 837.8 L1762.3 846.9 L1767.4 856.0 L1772.5 864.9 L1777.6 873.7 L1782.7 882.5 L1787.8 891.1 L1792.9 899.5 L1798.0 907.9 L1803.0 916.2 L1808.1 924.4 L1813.2 932.5 L1818.3 940.4 L1823.4 948.3 L1828.5 956.1 L1833.6 963.8 L1838.7 971.4 L1843.8 978.8 L1848.9 986.2 L1854.0 993.5 L1859.1 1000.7 L1864.2 1007.9 L1869.3 1014.9 L1874.4 1021.8 L1879.5 1028.7 L1884.6 1035.4 L1889.7 1042.1 L1894.8 1048.7 L1899.9 1055.2 L1905.0 1061.7 L1917.9 1076.8 L1949.7 1090.4 L1963.3 1104.0 L1976.9 1101.7 L1999.6 1108.5 L2011.6 1105.0 L2025.2 1105.4 L2042.6 1110.2 L2062.0 1110.2 L2077.5 1109.3 L2083.3 1112.2 L2094.9 1106.9 L2108.5 1108.3 L2120.1 1106.4 L2133.7 1110.8 L2147.3 1107.7 L2174.4 1108.3 L2201.5 1107.3 L2232.5 1109.3 L2265.5 1106.4 L2290.6 1108.9 L2313.9 1107.3 L2329.4 1108.9 L2352.0 1112.2" stroke="#000" stroke-width="4" stroke-linecap="round" stroke-linejoin="round" stroke-dasharray="11.8 6.3 2.9 7.1"/>
<path d="M297.5 1556.8 L327.7 1553.3 L360.4 1546.7 L393.0 1537.0 L425.7 1525.5 L458.4 1510.8 L482.9 1494.4 L504.2 1478.1 L523.8 1456.9 L538.5 1443.8 L549.9 1424.2 L556.4 1411.1 L564.6 1398.0 L576.0 1386.6 L580.0 1387.4 L585.0 1384.9 L590.0 1382.3 L595.0 1379.6 L600.0 1377.0 L605.0 1374.3 L610.0 1371.5 L615.0 1368.8 L620.0 1365.9 L625.0 1363.1 L630.0 1360.2 L635.0 1357.3 L640.0 1354.3 L645.0 1351.3 L650.0 1348.2 L655.0 1345.1 L660.0 1342.0 L665.0 1338.8 L670.0 1335.5 L675.0 1332.3 L680.0 1328.9 L685.0 1325.6 L690.0 1322.2 L695.0 1318.7 L700.0 1315.2 L705.0 1311.6 L710.0 1308.0 L715.0 1304.4 L720.0 1300.6 L725.0 1296.9 L730.0 1293.1 L735.0 1289.2 L740.0 1285.3 L745.0 1281.3 L750.0 1277.3 L755.0 1273.2 L760.0 1269.1 L765.0 1264.9 L770.0 1260.6 L775.0 1256.3 L780.0 1251.9 L785.0 1247.5 L790.0 1243.0 L795.0 1238.4 L800.0 1233.8 L805.0 1229.1 L810.0 1224.3 L815.0 1219.5 L820.0 1214.6 L825.0 1209.7 L830.0 1204.6 L835.0 1199.5 L840.0 1194.4 L845.0 1189.1 L850.0 1183.8 L855.0 1178.4 L860.0 1173.0 L865.0 1167.4 L870.0 1161.8 L875.0 1156.1 L880.0 1150.4 L885.0 1144.5 L890.0 1138.6 L895.0 1132.6 L900.0 1126.5 L905.0 1120.3 L910.0 1114.0 L915.0 1107.7 L920.0 1101.3 L925.0 1094.7 L930.0 1088.1 L935.0 1081.4 L940.0 1074.6 L945.0 1067.7 L950.0 1060.7 L955.0 1053.6 L960.0 1046.4 L965.2 1069.7 L970.7 1042.5 L975.0 1028.2 L981.0 1019.1 L987.0 1009.8 L993.0 1000.4 L996.0 1028.0 L1001.6 1055.2 L1010.6 1031.6 L1013.4 1004.4 L1020.0 985.0 L1030.6 962.6 L1045.1 937.2 L1056.0 915.4 L1068.7 886.3 L1083.3 855.4 L1090.0 825.9 L1095.7 814.1 L1101.3 802.0 L1107.0 789.8 L1112.7 777.4 L1118.3 764.8 L1124.0 752.0 L1126.0 753.8 L1133.7 773.2 L1138.0 719.5 L1143.2 707.1 L1148.4 694.4 L1153.7 681.6 L1158.9 668.6 L1164.1 655.4 L1169.3 642.1 L1174.6 628.5 L1179.8 614.7 L1185.0 600.7 L1190.2 586.6 L1195.4 572.2 L1200.7 557.6 L1205.9 542.8 L1211.1 527.8 L1216.3 512.6 L1221.6 497.1 L1226.8 481.4 L1232.0 465.5 L1236.0 470.0 L1242.5 452.0 L1244.7 440.0 L1250.2 434.4 L1256.0 428.0 L1262.8 418.7 L1267.5 412.4 L1270.0 403.0 L1275.0 401.0 L1277.0 396.6 L1283.3 392.0 L1286.4 387.2 L1294.3 384.8 L1297.4 386.4 L1304.5 389.6 L1308.4 394.3 L1315.5 397.4 L1322.5 389.7 L1331.6 375.2 L1337.0 364.0 L1342.6 358.6 L1349.3 364.0 L1353.3 369.3 L1356.0 380.0 L1358.6 390.6 L1362.6 410.6 L1365.3 422.6 L1370.6 454.6 L1374.6 462.5 L1379.9 473.2 L1390.6 473.2 L1398.6 473.2 L1404.0 485.0 L1410.0 500.0 L1420.0 506.0 L1431.0 503.0 L1442.0 477.0 L1452.0 471.0 L1458.0 468.0 L1465.4 457.5 L1471.5 452.6 L1477.5 450.2 L1482.4 452.6 L1487.2 457.5 L1490.8 467.2 L1495.7 480.5 L1498.0 491.0 L1503.0 510.7 L1510.0 531.0 L1515.0 537.4 L1519.0 542.0 L1524.0 533.7 L1529.1 536.2 L1534.2 538.7 L1539.2 541.2 L1544.3 543.7 L1549.4 546.2 L1554.5 548.6 L1559.5 551.1 L1564.6 553.6 L1569.7 556.0 L1574.8 558.5 L1579.8 561.0 L1584.9 563.4 L1590.0 565.8 L1597.7 502.4 L1603.7 525.0 L1609.7 556.9 L1614.0 575.3 L1619.1 577.7 L1624.2 580.1 L1629.3 582.5 L1634.4 584.9 L1639.5 594.6 L1644.6 606.9 L1649.7 619.0 L1654.8 631.0 L1659.9 642.8 L1665.0 654.5 L1670.1 666.0 L1675.2 677.4 L1680.3 688.6 L1685.4 699.7 L1690.5 710.6 L1695.6 721.4 L1700.7 732.1 L1705.8 742.7 L1710.9 753.1 L1716.0 763.4 L1722.6 754.3 L1736.2 767.9 L1749.9 790.6 L1772.6 813.4 L1786.2 836.1 L1799.8 858.8 L1813.4 867.8 L1827.0 890.6 L1840.7 908.7 L1858.9 931.4 L1872.5 938.2 L1895.2 949.6 L1917.9 947.3 L1945.1 938.2 L1976.9 931.4 L1995.1 933.7 L2000.0 935.8 L2019.4 942.6 L2038.8 941.7 L2058.1 940.7 L2081.4 940.7 L2104.6 941.7 L2120.1 947.5 L2139.5 955.2 L2155.0 949.4 L2174.4 941.7 L2186.0 940.3 L2203.4 943.6 L2222.8 950.0 L2232.5 950.0 L2251.9 943.6 L2275.1 939.7 L2290.6 941.7 L2310.0 943.0 L2329.4 946.5 L2352.0 951.9" stroke="#f00" stroke-width="4" stroke-linecap="round" stroke-linejoin="round" stroke-dasharray="4 6.7"/>
</g>
<path d="M295.5 1570.50H264.5M295.5 1494.50H280.5M295.5 1419.50H264.5M295.5 1343.50H280.5M295.5 1268.50H264.5M295.5 1192.50H280.5M295.5 1117.50H264.5M295.5 1041.50H280.5M295.5 966.50H264.5M295.5 890.50H280.5M295.5 815.50H264.5M295.5 739.50H280.5M295.5 663.50H264.5M295.5 588.50H280.5M295.5 512.50H264.5M295.5 437.50H280.5M295.5 361.50H264.5M295.5 286.50H280.5M295.5 210.50H264.5M295.5 135.50H280.5M295.5 59.50H264.5M295.50 1570.5V1600.5M501.50 1570.5V1585.5M622.50 1570.5V1585.5M708.50 1570.5V1585.5M774.50 1570.5V1585.5M829.50 1570.5V1585.5M875.50 1570.5V1585.5M914.50 1570.5V1585.5M949.50 1570.5V1585.5M981.50 1570.5V1600.5M1187.50 1570.5V1585.5M1308.50 1570.5V1585.5M1394.50 1570.5V1585.5M1460.50 1570.5V1585.5M1515.50 1570.5V1585.5M1560.50 1570.5V1585.5M1600.50 1570.5V1585.5M1635.50 1570.5V1585.5M1667.50 1570.5V1600.5M1873.50 1570.5V1585.5M1994.50 1570.5V1585.5M2080.50 1570.5V1585.5M2146.50 1570.5V1585.5M2200.50 1570.5V1585.5M2246.50 1570.5V1585.5M2286.50 1570.5V1585.5M2321.50 1570.5V1585.5M2353.50 1570.5V1600.5" stroke="#000" stroke-width="7" stroke-linecap="round" fill="none"/>
<rect x="295.5" y="59.5" width="2058.0" height="1511.0" stroke="#000" stroke-width="7" fill="none" stroke-linejoin="miter"/>
<g font-family="Liberation Sans, Arial, sans-serif" stroke="#000" stroke-width="0.8" font-size="68" fill="#000"><text x="245" y="1589.5" text-anchor="end" transform="matrix(1 0 0 1.03 0 -47.69)">0.0</text><text x="245" y="1438.4" text-anchor="end" transform="matrix(1 0 0 1.03 0 -43.15)">0.2</text><text x="245" y="1287.3" text-anchor="end" transform="matrix(1 0 0 1.03 0 -38.62)">0.4</text><text x="245" y="1136.2" text-anchor="end" transform="matrix(1 0 0 1.03 0 -34.09)">0.6</text><text x="245" y="985.1" text-anchor="end" transform="matrix(1 0 0 1.03 0 -29.55)">0.8</text><text x="245" y="834.0" text-anchor="end" transform="matrix(1 0 0 1.03 0 -25.02)">1.0</text><text x="245" y="682.9" text-anchor="end" transform="matrix(1 0 0 1.03 0 -20.49)">1.2</text><text x="245" y="531.8" text-anchor="end" transform="matrix(1 0 0 1.03 0 -15.95)">1.4</text><text x="245" y="380.7" text-anchor="end" transform="matrix(1 0 0 1.03 0 -11.42)">1.6</text><text x="245" y="229.6" text-anchor="end" transform="matrix(1 0 0 1.03 0 -6.89)">1.8</text><text x="245" y="80.0" text-anchor="end" transform="matrix(1 0 0 1.03 0 -2.40)">2.0</text><text x="295.5" y="1675" text-anchor="middle" transform="matrix(1 0 0 1.03 0 -50.25)">0.1</text><text x="981.3" y="1675" text-anchor="middle" transform="matrix(1 0 0 1.03 0 -50.25)">1</text><text x="1667.2" y="1675" text-anchor="middle" transform="matrix(1 0 0 1.03 0 -50.25)">10</text><text x="2353.0" y="1675" text-anchor="middle" transform="matrix(1 0 0 1.03 0 -50.25)">100</text></g>
<text font-family="Liberation Sans, Arial, sans-serif" stroke="#000" stroke-width="0.8" font-size="82" x="1324.2" y="1747" text-anchor="middle" transform="matrix(1 0 0 1.02 0 -34.94)">Frequency [Hz]</text>
<text font-family="Liberation Sans, Arial, sans-serif" stroke="#000" stroke-width="0.8" font-size="82" transform="translate(82 830) rotate(-90) scale(1 1.02)" text-anchor="middle">Sa [g]</text>
<rect x="306.5" y="67" width="781.5" height="490.5" fill="#fff" stroke="#000" stroke-width="3.5"/>
<defs><clipPath id="lc"><rect x="308.2" y="68" width="800" height="486"/></clipPath></defs>
<path clip-path="url(#lc)" d="M314 108.2H465.5" stroke="#000" stroke-width="16" stroke-linecap="round" stroke-linejoin="round" fill="none" shape-rendering="crispEdges"/>
<text font-family="Liberation Sans, Arial, sans-serif" stroke="#000" stroke-width="0.8" font-size="67.5" x="484.6" y="132" transform="matrix(1 0 0 1.035 0 -4.62)">Target</text>
<path d="M316 191H465" stroke="#000" stroke-width="4" stroke-linecap="round" stroke-linejoin="round" fill="none" shape-rendering="crispEdges"/>
<text font-family="Liberation Sans, Arial, sans-serif" stroke="#000" stroke-width="0.8" font-size="67.5" x="484.6" y="214" transform="matrix(1 0 0 1.035 0 -7.49)">Nahanni</text>
<path d="M316 272.9H465" stroke="#f00" stroke-width="4" stroke-linecap="round" stroke-linejoin="round" stroke-dasharray="10 13" fill="none" shape-rendering="crispEdges"/>
<text font-family="Liberation Sans, Arial, sans-serif" stroke="#000" stroke-width="0.8" font-size="67.5" x="484.6" y="296" transform="matrix(1 0 0 1.035 0 -10.36)">Superstition Hills-02</text>
<path d="M316 355H465" stroke="#00f" stroke-width="4" stroke-linecap="round" stroke-linejoin="round" stroke-dasharray="2 12.2" fill="none" shape-rendering="crispEdges"/>
<text font-family="Liberation Sans, Arial, sans-serif" stroke="#000" stroke-width="0.8" font-size="67.5" x="484.6" y="378" transform="matrix(1 0 0 1.035 0 -13.23)">Northridge</text>
<path d="M316 437H465" stroke="#000" stroke-width="4" stroke-linecap="round" stroke-linejoin="round" stroke-dasharray="11.8 6.3 2.9 7.1" fill="none" shape-rendering="crispEdges"/>
<text font-family="Liberation Sans, Arial, sans-serif" stroke="#000" stroke-width="0.8" font-size="67.5" x="484.6" y="460" transform="matrix(1 0 0 1.035 0 -16.10)">Kobe</text>
<path d="M316 518.9H465" stroke="#f00" stroke-width="4" stroke-linecap="round" stroke-linejoin="round" stroke-dasharray="4 6.7" fill="none" shape-rendering="crispEdges"/>
<text font-family="Liberation Sans, Arial, sans-serif" stroke="#000" stroke-width="0.8" font-size="67.5" x="484.6" y="542" transform="matrix(1 0 0 1.035 0 -18.97)">Chi-Chi, TCU 072,</text>
</svg></body></html>
